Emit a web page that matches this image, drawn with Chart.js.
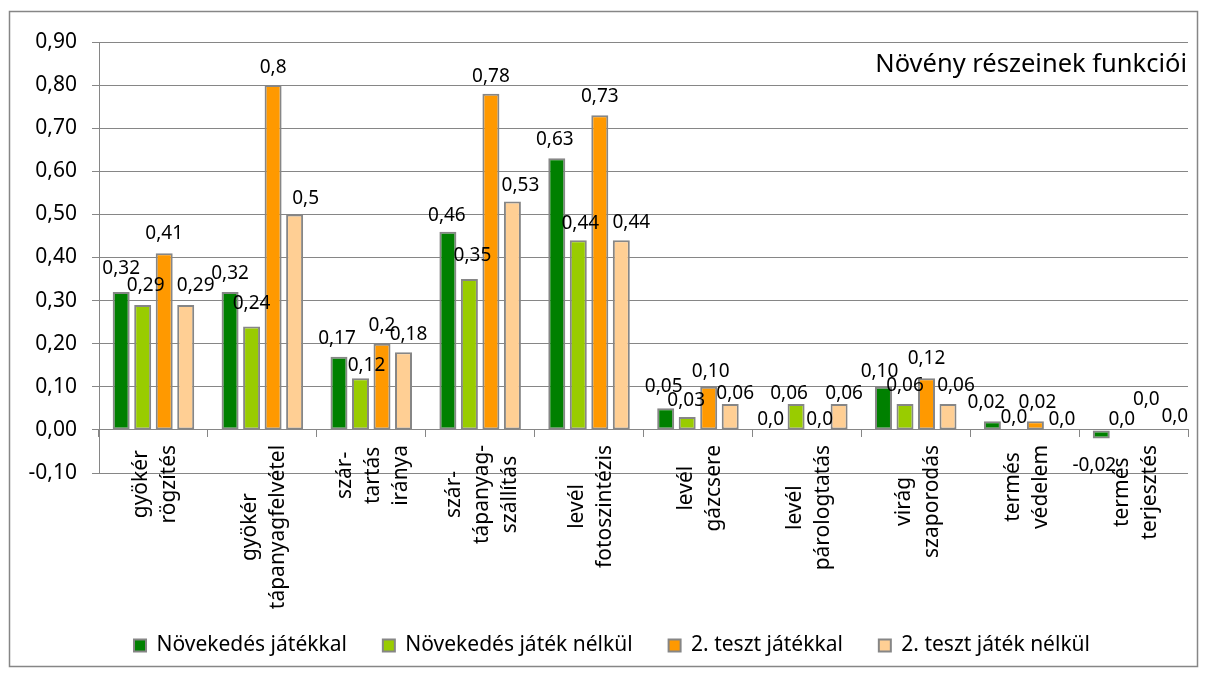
<!DOCTYPE html>
<html>
<head>
<meta charset="utf-8">
<script src="https://cdn.jsdelivr.net/npm/chart.js@4.4.0/dist/chart.umd.min.js"></script>
<style>
  body { margin: 0; background: #fff; }
  canvas { display: block; }
</style>
</head>
<body>
<canvas id="plantChart" width="1208" height="677"></canvas>
<script>
// categories, one array of text lines per rotated axis label
var categories = [
	['gyökér', 'rögzítés'],
	['gyökér', 'tápanyagfelvétel'],
	['szár-', 'tartás', 'iránya'],
	['szár-', 'tápanyag-', 'szállítás'],
	['levél', 'fotoszintézis'],
	['levél', 'gázcsere'],
	['levél', 'párologtatás'],
	['virág', 'szaporodás'],
	['termés', 'védelem'],
	['termés', 'terjesztés']
];

var seriesNames = ['Növekedés játékkal', 'Növekedés játék nélkül', '2. teszt játékkal', '2. teszt játék nélkül'];

// values kept as written on the bar labels
var growthWithGame = ['0.32', '0.32', '0.17', '0.46', '0.63', '0.05', '0.0', '0.10', '0.02', '-0.02'];
var growthNoGame   = ['0.29', '0.24', '0.12', '0.35', '0.44', '0.03', '0.06', '0.06', '0.0', '0.0'];
var test2WithGame  = ['0.41', '0.8', '0.2', '0.78', '0.73', '0.10', '0.0', '0.12', '0.02', '0.0'];
var test2NoGame    = ['0.29', '0.5', '0.18', '0.53', '0.44', '0.06', '0.06', '0.06', '0.0', '0.0'];

var yMin = -0.1;
var yMax = 0.9;
var yStep = 0.1;

var chartTitle = 'Növény részeinek funkciói';

var seriesColors = ['#008000', '#99cc00', '#ff9900', '#ffcf94'];
var edgeColor = '#868686';
var fontFamily = "'Noto Sans', sans-serif";

// hand-moved value labels: [dx, dy] in px per series, per category
var labelNudge = [
	[[0, -5], [0, 0], [-2, 0], [-1, 2], [-2, -1], [-2, -4], [-4, 8], [-4, 3], [-6, -1], [-7, 9]],
	[[3, -1], [0, -5], [6, 5], [3, -5], [2, 1], [-1, 2], [-7, 8], [0, 0], [0, 6], [-1, 8]],
	[[0, -2], [0, 0], [0, 0], [0, 1], [0, -1], [2, 3], [2, 8], [0, -2], [2, -1], [2, -12]],
	[[10, -1], [11, 2], [5, 0], [8, 2], [10, 0], [5, 8], [5, 8], [8, 0], [5, 8], [9, 5]]
];

Chart.defaults.font.family = fontFamily;
Chart.defaults.color = '#000';

function commaText(v) {
	return v.replace('.', ',');
}

function makeDataset(i, values) {
	return {
		label: seriesNames[i],
		data: values.map(Number),
		texts: values,
		backgroundColor: seriesColors[i],
		borderColor: edgeColor,
		borderWidth: 2,
		borderSkipped: false,
		categoryPercentage: 0.79,
		barPercentage: 0.79
	};
}

// white page with the gray frame around everything
var framePlugin = {
	id: 'frame',
	beforeDraw: function(chart) {
		var ctx = chart.ctx;
		ctx.save();
		ctx.fillStyle = '#fff';
		ctx.fillRect(0, 0, chart.width, chart.height);
		ctx.strokeStyle = edgeColor;
		ctx.lineWidth = 1.5;
		ctx.strokeRect(9.5, 11.5, 1188, 655);
		ctx.restore();
	}
};

// rotated multi-line category labels, lines centred on each other
var categoryLabelPlugin = {
	id: 'categoryLabels',
	afterDraw: function(chart) {
		var ctx = chart.ctx;
		var xs = chart.scales.x;
		var axisY = chart.scales.y.getPixelForValue(0);
		ctx.save();
		ctx.font = '21px ' + fontFamily;
		ctx.fillStyle = '#000';
		ctx.textAlign = 'center';
		ctx.textBaseline = 'middle';
		for (var i = 0; i < categories.length; i++) {
			var lines = categories[i];
			var maxW = 0;
			for (var j = 0; j < lines.length; j++) {
				maxW = Math.max(maxW, ctx.measureText(lines[j]).width);
			}
			var cx = xs.getPixelForValue(i);
			var cy = axisY + 15 + maxW / 2;
			for (var j = 0; j < lines.length; j++) {
				ctx.save();
				ctx.translate(cx + 2 + (j - (lines.length - 1) / 2) * 28, cy);
				ctx.rotate(-Math.PI / 2);
				ctx.fillText(lines[j], 0, 0);
				ctx.restore();
			}
		}
		ctx.restore();
	}
};

// value labels above (or below) every bar
var valueLabelPlugin = {
	id: 'valueLabels',
	afterDatasetsDraw: function(chart) {
		var ctx = chart.ctx;
		ctx.save();
		ctx.font = '19px ' + fontFamily;
		ctx.fillStyle = '#000';
		ctx.textAlign = 'center';
		ctx.textBaseline = 'middle';
		chart.data.datasets.forEach(function(ds, di) {
			var meta = chart.getDatasetMeta(di);
			meta.data.forEach(function(bar, k) {
				var v = ds.data[k];
				var nudge = labelNudge[di][k];
				var y = v < 0 ? bar.y + 18 : bar.y - 18;
				ctx.fillText(commaText(ds.texts[k]), bar.x + nudge[0], y + nudge[1]);
			});
		});
		ctx.restore();
	}
};

// title sitting inside the plot, top right
var innerTitlePlugin = {
	id: 'innerTitle',
	afterDraw: function(chart) {
		var ctx = chart.ctx;
		var area = chart.chartArea;
		ctx.save();
		ctx.font = '25.5px ' + fontFamily;
		ctx.fillStyle = '#000';
		ctx.textAlign = 'right';
		ctx.textBaseline = 'middle';
		ctx.fillText(chartTitle, area.right - 1, area.top + 23);
		ctx.restore();
	}
};

var ctx = document.getElementById('plantChart').getContext('2d');
var chart = new Chart(ctx, {
	type: 'bar',
	data: {
		labels: categories.map(function(c) { return c.join(' '); }),
		datasets: [
			makeDataset(0, growthWithGame),
			makeDataset(1, growthNoGame),
			makeDataset(2, test2WithGame),
			makeDataset(3, test2NoGame)
		]
	},
	options: {
		responsive: false,
		animation: false,
		devicePixelRatio: 1,
		layout: {
			padding: { left: 17, right: 1, top: 42, bottom: 11 }
		},
		scales: {
			x: {
				position: { y: 0 },
				offset: true,
				grid: {
					display: true,
					drawOnChartArea: false,
					drawTicks: true,
					tickLength: 7,
					offset: true,
					color: edgeColor,
					lineWidth: 1
				},
				border: { display: true, color: edgeColor, width: 1 },
				ticks: { display: false }
			},
			// empty band that keeps room for the rotated labels
			labelRoom: {
				axis: 'x',
				type: 'category',
				position: 'bottom',
				display: true,
				grid: { display: false },
				border: { display: false },
				ticks: { display: false },
				afterFit: function(s) { s.height = 126; }
			},
			y: {
				min: yMin,
				max: yMax,
				ticks: {
					stepSize: yStep,
					padding: 15,
					font: { size: 21 },
					color: '#000',
					callback: function(v) {
						if (Math.abs(v) < 1e-9) v = 0;
						return v.toFixed(2).replace('.', ',');
					}
				},
				grid: {
					color: edgeColor,
					lineWidth: 1,
					tickLength: 7
				},
				border: { display: true, color: edgeColor, width: 1 },
				afterFit: function(s) { s.width = 82; }
			},
			// empty strip on the right edge of the plot
			rightRoom: {
				axis: 'y',
				type: 'linear',
				position: 'right',
				display: true,
				grid: { display: false },
				border: { display: false },
				ticks: { display: false },
				afterFit: function(s) { s.width = 19; }
			}
		},
		plugins: {
			legend: {
				position: 'bottom',
				labels: {
					boxWidth: 12,
					boxHeight: 12,
					padding: 36,
					font: { size: 21 },
					color: '#000'
				}
			},
			tooltip: { enabled: false },
			title: { display: false }
		}
	},
	plugins: [framePlugin, categoryLabelPlugin, valueLabelPlugin, innerTitlePlugin]
});
</script>
</body>
</html>
